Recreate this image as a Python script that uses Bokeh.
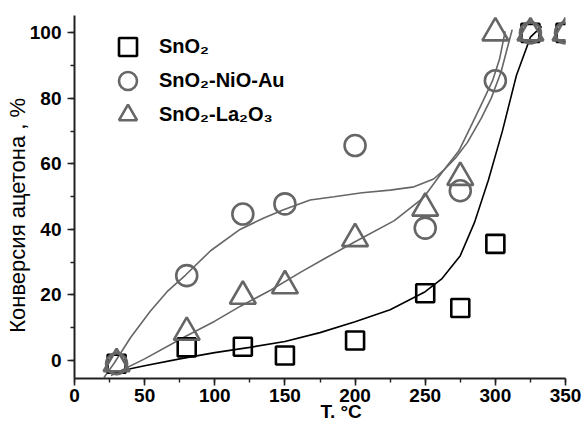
from bokeh.plotting import figure
from bokeh.models import Range1d, Legend, LegendItem, FixedTicker
from bokeh.embed import file_html
from bokeh.resources import INLINE

# --- data -----------------------------------------------------------------
temps = [30, 80, 120, 150, 200, 250, 275, 300, 325, 350]
sno2 = [-1, 4.0, 4.2, 1.5, 6.1, 20.5, 16.0, 35.6, 100, 100]
sno2_nio_au = [-1, 25.9, 44.7, 47.8, 65.6, 40.4, 51.8, 85.4, 100, 100]
sno2_la2o3 = [-1, 8.6, 19.6, 22.8, 37.2, 46.5, 55.9, 100, 100, 100]

# fitted curves
fit_sno2_x = [28, 50, 75, 100, 125, 150, 175, 200, 225, 250, 262, 275, 285, 295, 305, 315, 325, 333]
fit_sno2_y = [-3.6, -1.6, 0.5, 2.4, 4.0, 5.8, 8.5, 11.8, 15.5, 21, 25, 32, 42, 55, 70, 87, 98.7, 102]

fit_nio_x = [21, 28, 40, 54, 66, 79, 97, 118, 135, 149, 168, 185, 205, 225, 242, 256, 263, 272, 280, 290, 297, 304, 312]
fit_nio_y = [-5.2, -1, 7, 15, 21, 26, 33.5, 40, 43.5, 46, 49, 50, 51.2, 52, 53, 55.4, 58, 62, 66.5, 74, 80, 88, 101]

fit_la_x = [26, 50, 79, 100, 118, 140, 161, 180, 199, 228, 249, 263, 274, 282, 291, 298, 303, 307]
fit_la_y = [-4.6, 0.5, 7.3, 12, 16.5, 21.5, 26.9, 31.5, 36, 42.7, 49.8, 58, 64, 71, 79, 85.4, 92, 100.5]

x_ticks = [0, 50, 100, 150, 200, 250, 300, 350]
y_ticks = [0, 20, 40, 60, 80, 100]

GREY = "#666666"
FONT = "Liberation Sans"

p = figure(width=585, height=430, output_backend="svg", toolbar_location=None,
           x_range=Range1d(0, 350), y_range=Range1d(-5.5, 105.3),
           min_border_left=74, min_border_right=20, min_border_top=15, min_border_bottom=52)
p.background_fill_color = "white"
p.border_fill_color = "white"
p.outline_line_color = None
p.xgrid.visible = False
p.ygrid.visible = False

# curves
p.line(fit_sno2_x, fit_sno2_y, line_color="black", line_width=1.6)
p.line(fit_nio_x, fit_nio_y, line_color=GREY, line_width=1.6)
p.line(fit_la_x, fit_la_y, line_color=GREY, line_width=1.6)

# markers
r_sq = p.scatter(temps, sno2, marker="square", size=18, fill_color=None,
                 line_color="black", line_width=2.6)
r_ci = p.scatter(temps, sno2_nio_au, marker="circle", size=21, fill_color=None,
                 line_color=GREY, line_width=2.6)
r_tr = p.scatter(temps, sno2_la2o3, marker="triangle", size=26, fill_color=None,
                 line_color=GREY, line_width=2.6)

legend_specs = [("SnO₂", r_sq, 309), ("SnO₂-NiO-Au", r_ci, 275), ("SnO₂-La₂O₃", r_tr, 241)]
for lab, rend, ypos in legend_specs:
    lg = Legend(items=[LegendItem(label=lab, renderers=[rend])],
                location=(31, ypos), glyph_width=45, glyph_height=45,
                label_standoff=9, padding=0, margin=0,
                border_line_color=None, background_fill_alpha=0,
                label_text_font=FONT, label_text_font_style="bold",
                label_text_font_size="20px", label_text_color="black")
    p.add_layout(lg, "center")

for ax in (p.xaxis[0], p.yaxis[0]):
    ax.axis_line_width = 2
    ax.axis_line_color = "#222222"
    ax.major_tick_line_width = 1.6
    ax.minor_tick_line_width = 1.4
    ax.major_tick_line_color = "#222222"
    ax.minor_tick_line_color = "#222222"
    ax.major_tick_out = 7
    ax.major_tick_in = 0
    ax.minor_tick_out = 4
    ax.minor_tick_in = 0
    ax.major_label_text_font = FONT
    ax.major_label_text_font_style = "bold"
    ax.major_label_text_font_size = "19px"
    ax.major_label_text_color = "black"

p.xaxis[0].ticker = FixedTicker(ticks=x_ticks, minor_ticks=list(range(0, 351, 25)))
p.yaxis[0].ticker = FixedTicker(ticks=y_ticks, minor_ticks=list(range(0, 101, 10)))
p.xaxis[0].major_label_standoff = 3
p.yaxis[0].major_label_standoff = 6

p.yaxis[0].axis_label = "Конверсия ацетона , %" + "\u00a0" * 6
p.yaxis[0].axis_label_text_font = FONT
p.yaxis[0].axis_label_text_font_style = "normal"
p.yaxis[0].axis_label_text_font_size = "22px"
p.yaxis[0].axis_label_text_color = "black"
p.yaxis[0].axis_label_standoff = -3

p.xaxis[0].axis_label = "\u00a0" * 8 + "T. °C"
p.xaxis[0].axis_label_text_font = FONT
p.xaxis[0].axis_label_text_font_style = "bold"
p.xaxis[0].axis_label_text_font_size = "19px"
p.xaxis[0].axis_label_text_color = "black"
p.xaxis[0].axis_label_standoff = -4

open("out.html", "w").write(file_html(p, INLINE))
